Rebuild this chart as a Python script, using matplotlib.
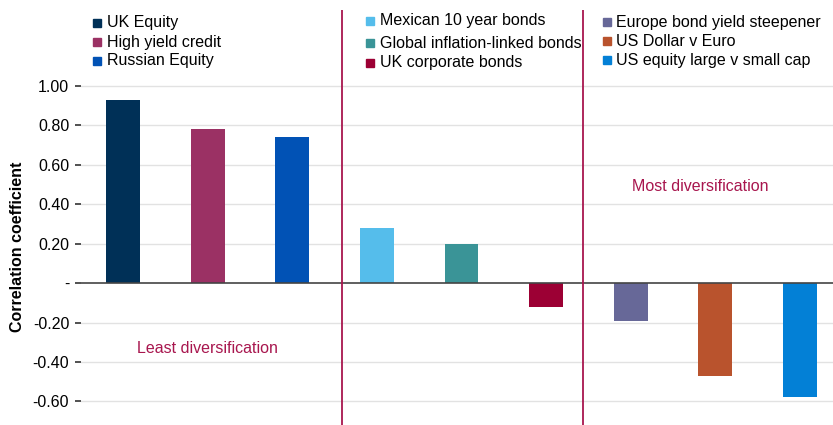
import matplotlib.pyplot as plt
from matplotlib.patches import Rectangle

plt.rcParams['font.family'] = ['Liberation Sans', 'DejaVu Sans']

# correlation of each asset with the reference portfolio
assets = ["UK Equity", "High yield credit", "Russian Equity",
          "Mexican 10 year bonds", "Global inflation-linked bonds", "UK corporate bonds",
          "Europe bond yield steepener", "US Dollar v Euro", "US equity large v small cap"]
corr = [0.93, 0.78, 0.74, 0.28, 0.20, -0.12, -0.19, -0.47, -0.58]
colors = ["#003057", "#9B3164", "#0152B5", "#55BDEB", "#3A9497", "#9C0034",
          "#676898", "#B9532D", "#0380D6"]
yticks = [1.0, 0.8, 0.6, 0.4, 0.2, 0.0, -0.2, -0.4, -0.6]
ytick_labels = ["1.00", "0.80", "0.60", "0.40", "0.20", "-", "-0.20", "-0.40", "-0.60"]

accent = "#A8164E"
W, H = 833, 425
fs = 11.5

fig = plt.figure(figsize=(W / 100, H / 100), dpi=100)
ax = fig.add_axes([81 / W, 0, 752 / W, 415 / H])

x = list(range(len(corr)))
ax.bar(x, corr, width=0.4, color=colors, zorder=3)

ax.set_xlim(-0.496, 8.39)
ax.set_ylim(-0.72, 1.386)
ax.set_yticks(yticks)
ax.set_yticklabels(ytick_labels, fontsize=fs)
ax.set_xticks([])
ax.tick_params(axis='y', length=4, width=1.2, color='#333333', pad=4.5)
for s in ax.spines.values():
    s.set_visible(False)
for t in yticks:
    if t == 0:
        ax.axhline(0, color='#444444', lw=1.2, zorder=4)
    else:
        ax.axhline(t, color='#e2e2e2', lw=1, zorder=1)

# group separators
for xv in (2.59, 5.44):
    ax.axvline(xv, color=accent, lw=1.3, zorder=5)

ax.text(1.0, -0.33, "Least diversification", color=accent, fontsize=fs,
        ha='center', va='center')
ax.text(6.82, 0.49, "Most diversification", color=accent, fontsize=fs,
        ha='center', va='center')

ax.set_ylabel("Correlation coefficient", fontsize=fs, fontweight='bold')
ax.yaxis.set_label_coords(-0.074, 0.429)

# legend in three columns
cols = [(93, 107, [23, 42, 61]), (366, 380, [21, 43, 63]), (603, 616, [22, 41, 60])]
k = 0
for mx, tx, ys in cols:
    for yy in ys:
        fig.patches.append(Rectangle((mx / W, 1 - (yy + 4) / H), 8 / W, 8 / H,
                                     transform=fig.transFigure, color=colors[k]))
        fig.text(tx / W, 1 - yy / H, assets[k], fontsize=fs, va='center', ha='left')
        k += 1

fig.savefig("out.png", dpi=100)
